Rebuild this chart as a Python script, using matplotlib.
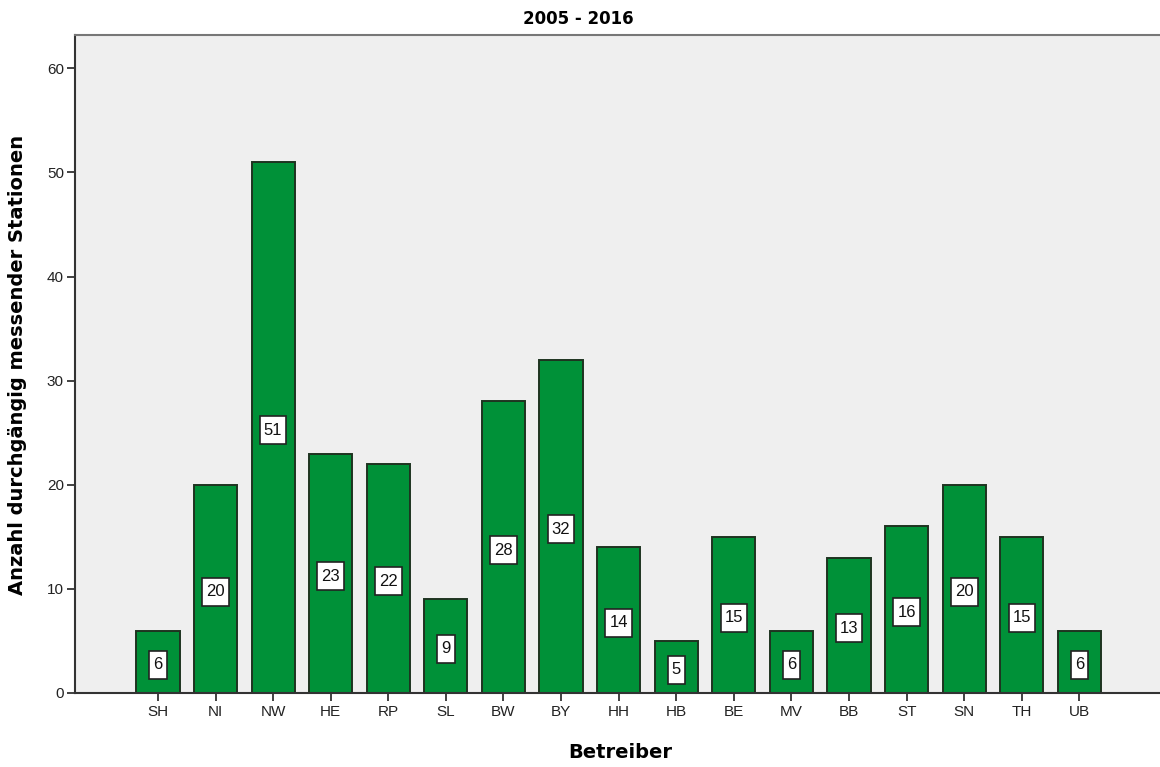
import matplotlib
matplotlib.use("Agg")
import matplotlib.pyplot as plt
from matplotlib.path import Path

categories = ["SH", "NI", "NW", "HE", "RP", "SL", "BW", "BY", "HH", "HB", "BE", "MV", "BB", "ST", "SN", "TH", "UB"]
values = [6, 20, 51, 23, 22, 9, 28, 32, 14, 5, 15, 6, 13, 16, 20, 15, 6]
yticks = [0, 10, 20, 30, 40, 50, 60]

plt.rcParams['font.family'] = ['Liberation Sans', 'DejaVu Sans']

fig = plt.figure(figsize=(11.6, 7.67), dpi=100)
ax = fig.add_axes([75/1160, 74/767, 1 - 75/1160 + 0.002, (693-35)/767])
ax.set_facecolor('#EFEFEF')


def tall_box(x0, y0, width, height, mutation_size):
    # box with small horizontal and tall vertical padding (in display pixels)
    padx = 4.0
    total_h = 28.0
    cy = y0 + height / 2.0
    left, right = x0 - padx, x0 + width + padx
    bottom, top = cy - total_h / 2.0, cy + total_h / 2.0
    verts = [(left, bottom), (right, bottom), (right, top), (left, top), (left, bottom)]
    codes = [Path.MOVETO, Path.LINETO, Path.LINETO, Path.LINETO, Path.CLOSEPOLY]
    return Path(verts, codes)


x = list(range(len(categories)))
ax.bar(x, values, width=0.75, color='#009138', edgecolor='#1E3320', linewidth=1.4, zorder=2)
for xi, v in zip(x, values):
    ax.annotate(str(v), xy=(xi, v / 2), xytext=(0, -2), textcoords='offset points',
                ha='center', va='center', fontsize=12, color='#111111', zorder=3,
                bbox=dict(boxstyle=tall_box, facecolor='white', edgecolor='#222222', linewidth=1.2))

ax.set_xlim(-1.44, 16 + 1.44)
ax.set_ylim(0, 63.2)
ax.set_xticks(x)
ax.set_xticklabels(categories, fontsize=11)
ax.set_yticks(yticks)
ax.set_yticklabels([str(t) for t in yticks], fontsize=11)
ax.tick_params(axis='both', direction='out', length=6, width=1.3, color='#333333', labelcolor='#222222', pad=2)
ax.tick_params(axis='x', length=6, pad=3)

for side in ['left', 'bottom']:
    ax.spines[side].set_color('#333333')
    ax.spines[side].set_linewidth(1.5)
ax.spines['top'].set_color('#777777')
ax.spines['top'].set_linewidth(1.5)
ax.spines['right'].set_visible(False)

bold_font = ['DejaVu Sans']
fig.text(578/1160, 1 - 19/767, "2005 - 2016", ha='center', va='center', fontsize=12, fontweight='bold',
         family=bold_font)
fig.text(620/1160, 1 - 752/767, "Betreiber", ha='center', va='center', fontsize=14, fontweight='bold',
         family=bold_font)
fig.text(18/1160, 1 - 365/767, "Anzahl durchgängig messender Stationen", ha='center', va='center',
         rotation=90, fontsize=14, fontweight='bold', family=bold_font)

fig.savefig("out.png", dpi=100)
